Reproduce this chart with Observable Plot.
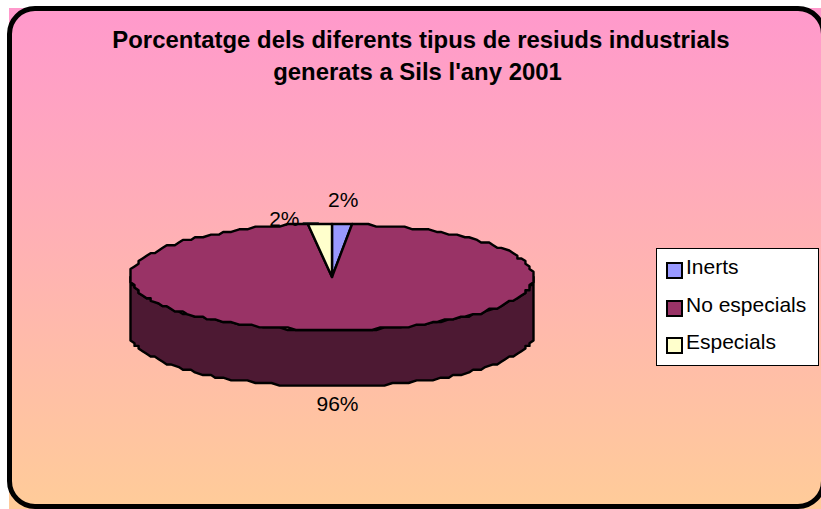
<!DOCTYPE html>
<html>
<head>
<meta charset="utf-8">
<script src="https://cdn.jsdelivr.net/npm/d3@7"></script>
<script src="https://cdn.jsdelivr.net/npm/@observablehq/plot@0.6"></script>
<style>
  html, body { margin: 0; padding: 0; background: #fff; width: 821px; height: 509px; overflow: hidden; font-family: "Liberation Sans", Arial, sans-serif; }
  #bg { position: absolute; left: 9px; top: 8px; width: 812px; height: 501px; background: linear-gradient(180deg, #FF99CC 0%, #FFCC99 100%); }
  #clip { position: absolute; left: 0; top: 0; width: 821px; height: 509px; overflow: hidden; }
  #frame { position: absolute; left: 7px; top: 6px; width: 809px; height: 493px; border: 5px solid #000; border-radius: 28px; }
  #chart { position: absolute; left: 0; top: 0; }
  #title { position: absolute; left: 0; width: 842px; top: 24px; text-align: center; font-weight: bold; font-size: 23.9px; line-height: 32px; color: #000; margin: 0; white-space: nowrap; }
  #title span { display: block; }
  #title span + span { position: relative; left: -3.5px; }
  #legend { position: absolute; left: 656px; top: 248px; width: 161px; height: 116px; background: #fff; border: 1px solid #000; }
  .item { position: absolute; left: 9px; height: 20px; font-size: 21px; line-height: 20px; white-space: nowrap; }
  .swatch { position: absolute; left: 0; top: 3px; width: 13px; height: 13px; border: 2px solid #000; }
  .item span { position: absolute; left: 20px; top: -2px; }
</style>
</head>
<body>
<div id="bg"></div>
<div id="clip"><div id="frame"></div></div>
<div id="chart"></div>
<h1 id="title"></h1>
<div id="legend"></div>
<script>
const titleLines = ["Porcentatge dels diferents tipus de resiuds industrials", "generats a Sils l'any 2001"];
const categories = ["Inerts", "No especials", "Especials"];
const shares = [0.016, 0.964, 0.020];
const colors = ["#9999FF", "#993366", "#FFFFCC"];
const wallColor = "#4D1933";
const depth = 1.06;                 // wall height, in units of the vertical radius
const stepDeg = 2.5;
const snapX = 0.02, snapY = 0.05;   // the outline of the source is a coarse, stepped polygon
const turn = 2 * Math.PI;

// Slices run clockwise from 12 o'clock
let acc = 0;
const slices = categories.map((category, i) => {
  const start = acc * turn; acc += shares[i];
  return {category, share: shares[i], start, end: acc * turn, mid: (start + acc * turn) / 2};
});

const rim = (a, drop = 0) => ({x: Math.sin(a), y: -Math.cos(a) + drop});
const snap = p => ({x: Math.round(p.x / snapX) * snapX, y: Math.round(p.y / snapY) * snapY});
function arc(a0, a1, drop = 0) {
  const n = Math.max(1, Math.ceil((a1 - a0) / (stepDeg * Math.PI / 180)));
  return d3.range(n + 1).map(i => snap(rim(a0 + (a1 - a0) * i / n, drop)));
}

// Top faces
const sliceRows = slices.flatMap(s =>
  [{x: 0, y: 0}, ...arc(s.start, s.end), {x: 0, y: 0}].map(p => ({...p, category: s.category})));

// Visible outer wall: the front half of the disc
const wallRows = [...arc(turn / 4, 3 * turn / 4), ...arc(turn / 4, 3 * turn / 4, depth).reverse()];
wallRows.push(wallRows[0]);

// Value labels: anchored on the rim at the middle of each slice
const fmt = d3.format(".0%");
const labelOffset = {"Inerts": [1, -24], "No especials": [3, 74], "Especials": [-35, -5]};
const labelMarks = slices.map(s => {
  const p = rim(s.mid);
  return Plot.text([{...p, label: fmt(s.share)}], {
    x: "x", y: "y", text: "label", dx: labelOffset[s.category][0], dy: labelOffset[s.category][1],
    fontSize: 21, fill: "#000", fontFamily: "Liberation Sans"
  });
});

// Leader from the Especials label to its slice
const esp = rim(slices[2].mid);
const leader = Plot.ruleY([esp.y], {x1: esp.x - 0.08, x2: esp.x, dy: -1.5, stroke: "#333", strokeWidth: 1});

const chart = Plot.plot({
  width: 821, height: 509, margin: 0,
  style: {background: "transparent", overflow: "visible"},
  x: {domain: [-1, 1], range: [130, 533], axis: null},
  y: {domain: [-1, 1], range: [223.5, 329.5], axis: null},
  color: {domain: categories, range: colors},
  marks: [
    Plot.line(wallRows, {x: "x", y: "y", fill: wallColor, stroke: "#000", strokeWidth: 2.4, strokeLinejoin: "round"}),
    Plot.line(sliceRows, {x: "x", y: "y", z: "category", fill: "category", stroke: "#000", strokeWidth: 2.4, strokeLinejoin: "round"}),
    leader,
    ...labelMarks
  ]
});
document.getElementById("chart").append(chart);

d3.select("#title").selectAll("span").data(titleLines).join("span").text(d => d);

const legend = d3.select("#legend");
categories.forEach((c, i) => {
  const item = legend.append("div").attr("class", "item").style("top", (10 + i * 37.5) + "px");
  item.append("div").attr("class", "swatch").style("background", colors[i]);
  item.append("span").text(c);
});
</script>
</body>
</html>
